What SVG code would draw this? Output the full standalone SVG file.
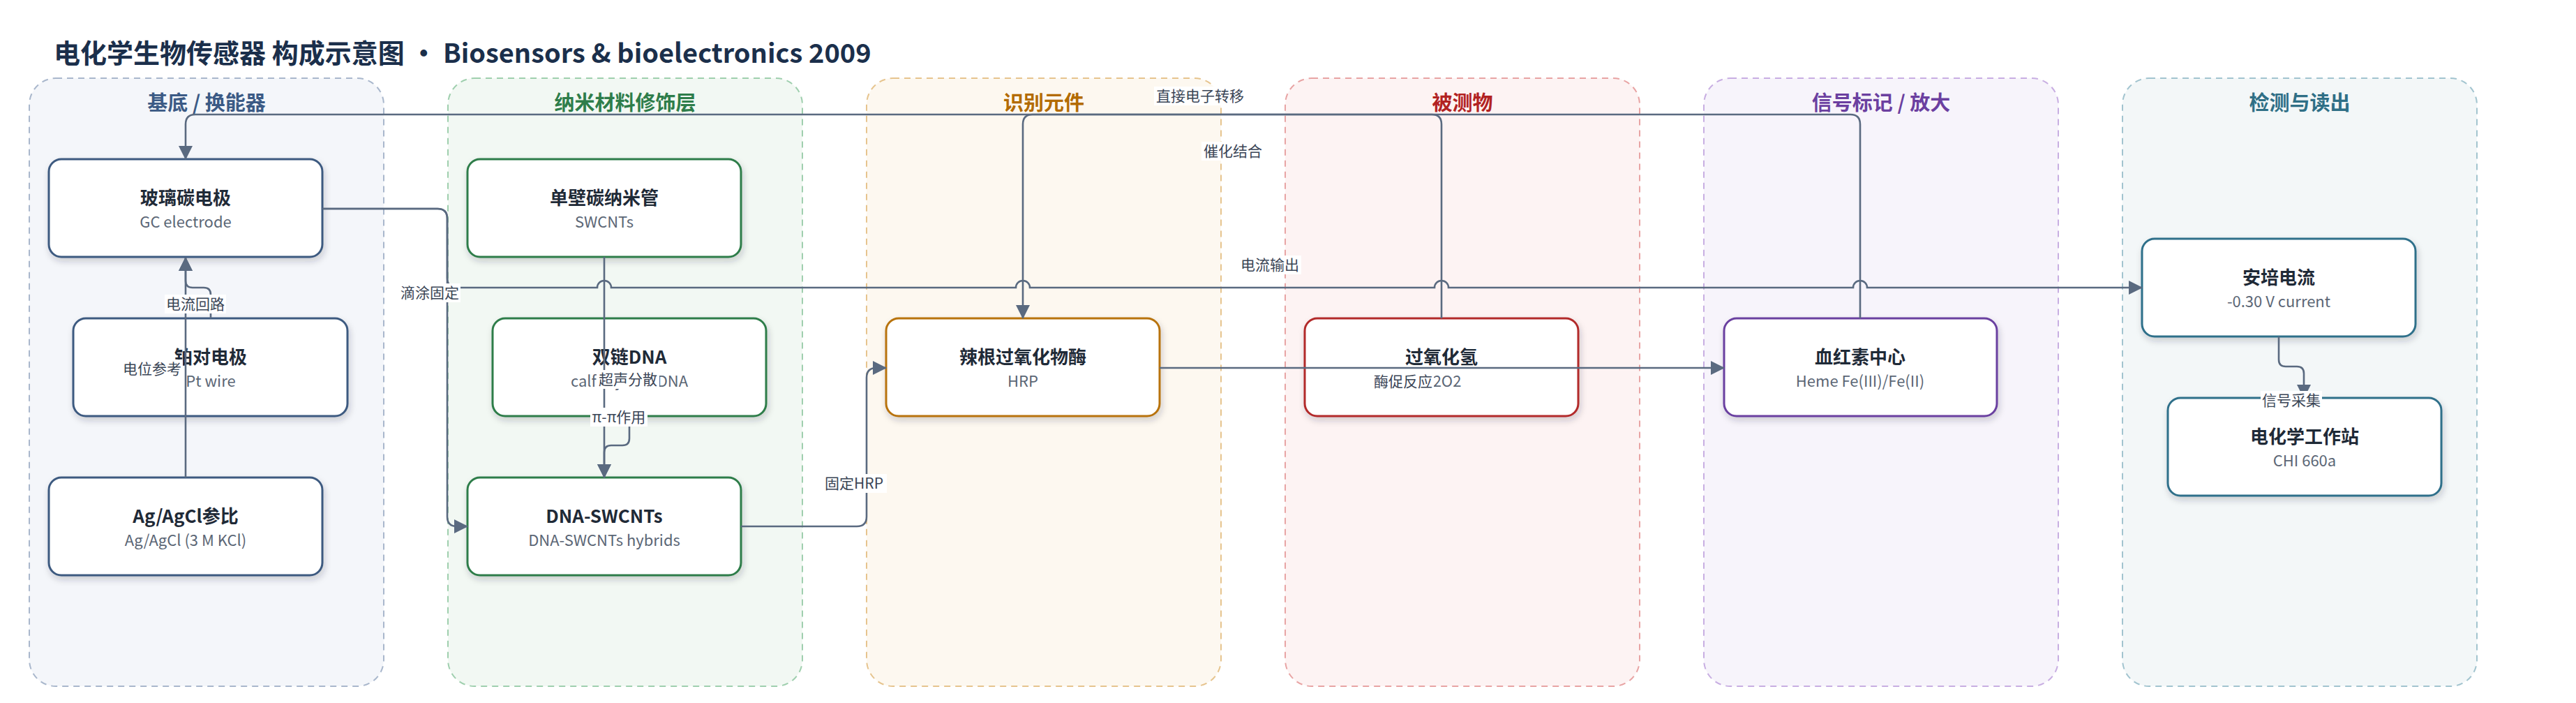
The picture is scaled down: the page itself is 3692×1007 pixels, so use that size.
<svg xmlns="http://www.w3.org/2000/svg" width="3692" height="1007" viewBox="0 0 3692 1007">
<defs>
<style>
text{font-family:"Noto Sans CJK SC","Noto Sans",sans-serif}
.ttl{font-size:38px;font-weight:700;fill:#1b2f4b}
.ct{font-size:29px;font-weight:700;text-anchor:middle}
.cl{stroke-width:2;stroke-dasharray:9 7}
.n{fill:#fff;stroke-width:3;filter:url(#sh)}
.nt{font-size:26px;font-weight:700;fill:#1f2a37;text-anchor:middle}
.ns{font-size:22px;fill:#5b6675;text-anchor:middle}
.e{fill:none;stroke:#5a6a80;stroke-width:2.6}
.ea{marker-end:url(#ah)}
.lb{fill:#fff}
.lt{font-size:21px;fill:#3a4556;text-anchor:middle}
</style>
<filter id="sh" x="-10%" y="-10%" width="125%" height="140%">
<feDropShadow dx="2" dy="5" stdDeviation="5" flood-color="#1f2a37" flood-opacity="0.2"/>
</filter>
<marker id="ah" markerUnits="userSpaceOnUse" markerWidth="20" markerHeight="20" refX="19" refY="10" orient="auto">
<path d="M0,0 L20,10 L0,20 z" fill="#5a6a80"/>
</marker>
</defs>
<rect width="3692" height="1007" fill="#fff"/>
<text class="ttl" x="77" y="90">电化学生物传感器 构成示意图 · Biosensors &amp; bioelectronics 2009</text>

<g id="clusters">
<g id="c1"><rect class="cl" x="42" y="112" width="508" height="871" rx="38" fill="#f4f6fa" stroke="#a9b7cc"/><text class="ct" x="296" y="158" fill="#3b5a85">基底 / 换能器</text></g>
<g id="c2"><rect class="cl" x="642" y="112" width="508" height="871" rx="38" fill="#f2f8f3" stroke="#9fcfae"/><text class="ct" x="896" y="158" fill="#2e7d4a">纳米材料修饰层</text></g>
<g id="c3"><rect class="cl" x="1242" y="112" width="508" height="871" rx="38" fill="#fdf8f0" stroke="#e6c48e"/><text class="ct" x="1496" y="158" fill="#b36b00">识别元件</text></g>
<g id="c4"><rect class="cl" x="1842" y="112" width="508" height="871" rx="38" fill="#fdf3f3" stroke="#e8a4a4"/><text class="ct" x="2096" y="158" fill="#b22222">被测物</text></g>
<g id="c5"><rect class="cl" x="2442" y="112" width="508" height="871" rx="38" fill="#f7f4fb" stroke="#c8aee2"/><text class="ct" x="2696" y="158" fill="#6b3fa0">信号标记 / 放大</text></g>
<g id="c6"><rect class="cl" x="3042" y="112" width="508" height="871" rx="38" fill="#f3f7f8" stroke="#a2c4cf"/><text class="ct" x="3296" y="158" fill="#2f6f86">检测与读出</text></g>
</g>

<g id="nodes">
<g id="gc"><rect class="n" x="70" y="228" width="392" height="140" rx="18" stroke="#3d5a80"/><text class="nt" x="266" y="293">玻璃碳电极</text><text class="ns" x="266" y="326">GC electrode</text></g>
<g id="pt"><rect class="n" x="105" y="456" width="393" height="140" rx="18" stroke="#3d5a80"/><text class="nt" x="302" y="521">铂对电极</text><text class="ns" x="302" y="554">Pt wire</text></g>
<g id="ref"><rect class="n" x="70" y="684" width="392" height="140" rx="18" stroke="#3d5a80"/><text class="nt" x="266" y="749">Ag/AgCl参比</text><text class="ns" x="266" y="782">Ag/AgCl (3 M KCl)</text></g>
<g id="swcnt"><rect class="n" x="670" y="228" width="392" height="140" rx="18" stroke="#2e7d4a"/><text class="nt" x="866" y="293">单壁碳纳米管</text><text class="ns" x="866" y="326">SWCNTs</text></g>
<g id="dsdna"><rect class="n" x="706" y="456" width="392" height="140" rx="18" stroke="#2e7d4a"/><text class="nt" x="902" y="521">双链DNA</text><text class="ns" x="902" y="554">calf thymus DNA</text></g>
<g id="hybrid"><rect class="n" x="670" y="684" width="392" height="140" rx="18" stroke="#2e7d4a"/><text class="nt" x="866" y="749">DNA-SWCNTs</text><text class="ns" x="866" y="782">DNA-SWCNTs hybrids</text></g>
<g id="hrp"><rect class="n" x="1270" y="456" width="392" height="140" rx="18" stroke="#b8730a"/><text class="nt" x="1466" y="521">辣根过氧化物酶</text><text class="ns" x="1466" y="554">HRP</text></g>
<g id="h2o2"><rect class="n" x="1870" y="456" width="392" height="140" rx="18" stroke="#b22a2a"/><text class="nt" x="2066" y="521">过氧化氢</text><text class="ns" x="2066" y="554">H2O2</text></g>
<g id="heme"><rect class="n" x="2471" y="456" width="391" height="140" rx="18" stroke="#6a3fa0"/><text class="nt" x="2666" y="521">血红素中心</text><text class="ns" x="2666" y="554">Heme Fe(III)/Fe(II)</text></g>
<g id="amp"><rect class="n" x="3070" y="342" width="392" height="140" rx="18" stroke="#2f6f8a"/><text class="nt" x="3266" y="407">安培电流</text><text class="ns" x="3266" y="440">-0.30 V current</text></g>
<g id="chi"><rect class="n" x="3107" y="570" width="392" height="140" rx="18" stroke="#2f6f8a"/><text class="nt" x="3303" y="635">电化学工作站</text><text class="ns" x="3303" y="668">CHI 660a</text></g>
</g>

<g id="connectors">
<path class="e ea" d="M266,684 L266,369"/>
<path class="e ea" d="M302,456 L302,422 Q302,412 292,412 L276,412 Q266,412 266,402 L266,369"/>
<path class="e ea" d="M866,368 L866,684"/>
<path class="e ea" d="M902,596 L902,628 Q902,638 892,638 L876,638 Q866,638 866,648 L866,684"/>
<path class="e ea" d="M462,299 L627,299 Q641,299 641,313 L641,740 Q641,754 655,754 L670,754"/>
<path class="e ea" d="M462,299 L627,299 Q641,299 641,313 L641,398 Q641,412 655,412 L856,412 A10,10 0 0 1 876,412 L1456,412 A10,10 0 0 1 1476,412 L2056,412 A10,10 0 0 1 2076,412 L2656,412 A10,10 0 0 1 2676,412 L3070,412"/>
<path class="e ea" d="M1062,754 L1228,754 Q1242,754 1242,740 L1242,541 Q1242,527 1256,527 L1270,527"/>
<path class="e ea" d="M1662,527 L2471,527"/>
<path class="e ea" d="M2066,456 L2066,178 Q2066,164 2052,164 L1480,164 Q1466,164 1466,178 L1466,456"/>
<path class="e ea" d="M2666,456 L2666,178 Q2666,164 2652,164 L280,164 Q266,164 266,178 L266,228"/>
<path class="e ea" d="M3266,482 L3266,515 Q3266,525 3276,525 L3292,525 Q3302,525 3302,535 L3302,570"/>
<g id="labels">
<rect class="lb" x="174" y="515" width="88" height="27"/><text class="lt" x="218" y="536">电位参考</text>
<rect class="lb" x="236" y="422" width="88" height="27"/><text class="lt" x="280" y="443">电流回路</text>
<rect class="lb" x="572" y="406" width="88" height="27"/><text class="lt" x="616" y="427">滴涂固定</text>
<rect class="lb" x="855" y="530" width="90" height="27"/><text class="lt" x="900" y="551">超声分散</text>
<rect class="lb" x="846" y="584" width="82" height="27"/><text class="lt" x="887" y="605">π-π作用</text>
<rect class="lb" x="1177" y="679" width="94" height="27"/><text class="lt" x="1224" y="700">固定HRP</text>
<rect class="lb" x="1966" y="533" width="89" height="27"/><text class="lt" x="2011" y="554">酶促反应</text>
<rect class="lb" x="1654" y="124" width="132" height="27"/><text class="lt" x="1720" y="145">直接电子转移</text>
<rect class="lb" x="1722" y="203" width="90" height="27"/><text class="lt" x="1767" y="224">催化结合</text>
<rect class="lb" x="1775" y="366" width="90" height="27"/><text class="lt" x="1820" y="387">电流输出</text>
<rect class="lb" x="3240" y="560" width="88" height="27"/><text class="lt" x="3284" y="581">信号采集</text>
</g>
</g>
</svg>
